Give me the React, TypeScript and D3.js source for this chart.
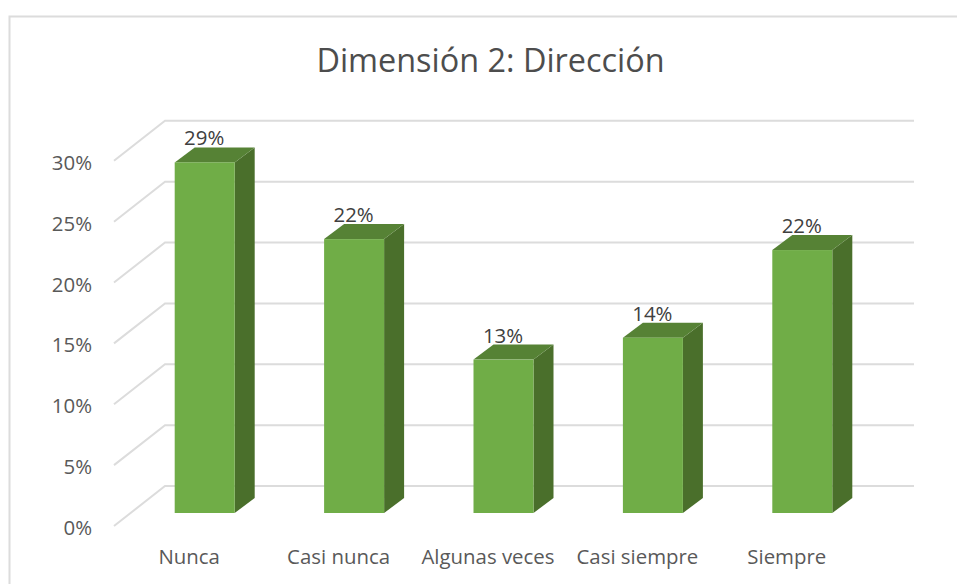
import React from "react";
import * as d3 from "d3";

const categories = ["Nunca", "Casi nunca", "Algunas veces", "Casi siempre", "Siempre"];
const values = [28.8, 22.5, 12.6, 14.4, 21.6];
const valueLabels = ["29%", "22%", "13%", "14%", "22%"];
const yTicks = [0, 5, 10, 15, 20, 25, 30];
const titleText = "Dimensión 2: Dirección";

const W = 957, H = 584;
const FONT = "'Open Sans', sans-serif";

export default function App() {
  // front plane of the value axis
  const yFront = d3.scaleLinear().domain([0, 30]).range([526, 160.8]);
  const x = d3.scaleBand<string>().domain(categories).range([130, 877]);
  const floorDx = 51, floorDy = 40;
  const barW = 60, depthX = 20, depthY = 15;
  const barBase = 513;
  const k = (yFront(0) - yFront(1));
  return (
    <svg width={W} height={H} style={{ position: "absolute", left: 0, top: 0, background: "#fff" }} fontFamily={FONT}>
      <path d={`M9.5,${H} V16.5 H${W}`} fill="none" stroke="#dcdcdc" strokeWidth={2} />
      <text x={490.5} y={72} textAnchor="middle" fontSize={32.4} fill="#4d4d4d">{titleText}</text>
      {yTicks.map((t) => {
        const y = yFront(t);
        return (
          <g key={t}>
            <path d={`M114,${y} L${114 + floorDx},${y - floorDy} H914`} fill="none" stroke="#dcdcdc" strokeWidth={2} />
            <text x={92} y={y + 9} textAnchor="end" fontSize={20.4} fill="#595959">{t}%</text>
          </g>
        );
      })}
      {categories.map((c, i) => {
        const cx = x(c)! + x.bandwidth() / 2;
        const l = cx - barW / 2, r = cx + barW / 2;
        const top = barBase - values[i] * k;
        return (
          <g key={c}>
            <path d={`M${r},${top} L${r + depthX},${top - depthY} V${barBase - depthY} L${r},${barBase} Z`} fill="#4a6f2b" />
            <path d={`M${l},${top} L${l + depthX},${top - depthY} H${r + depthX} L${r},${top} Z`} fill="#568235" />
            <rect x={l} y={top} width={barW} height={barBase - top} fill="#70ad47" />
            <text x={cx - 0.5} y={top - 17} textAnchor="middle" fontSize={20.4} fill="#404040">{valueLabels[i]}</text>
            <text x={cx - 15.5} y={564} textAnchor="middle" fontSize={20.4} fill="#595959">{c}</text>
          </g>
        );
      })}
    </svg>
  );
}
